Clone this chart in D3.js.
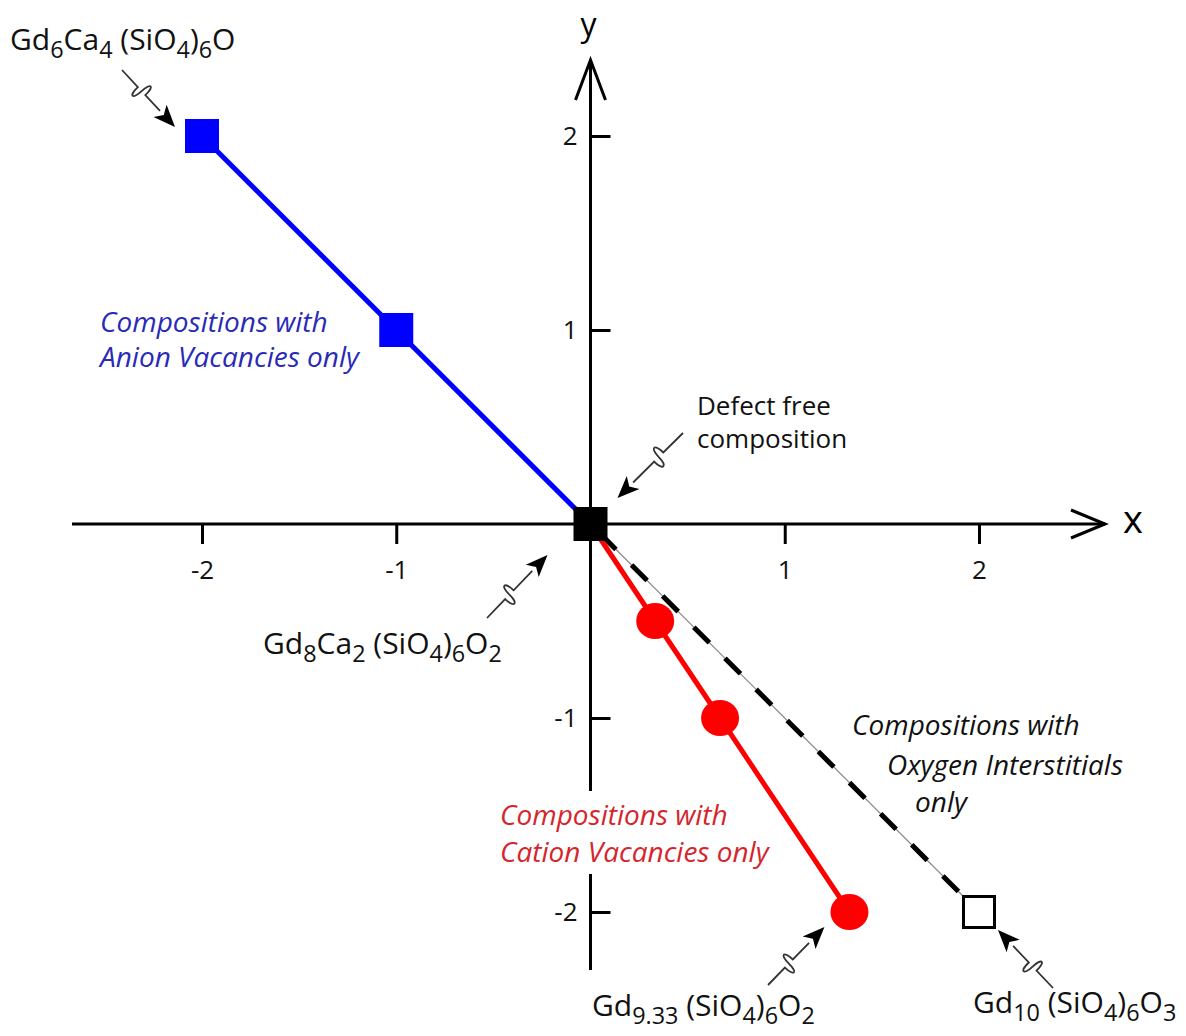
<!DOCTYPE html>
<html>
<head>
<meta charset="utf-8">
<script src="https://cdn.jsdelivr.net/npm/d3@7"></script>
<style>
  html, body { margin: 0; padding: 0; background: #fff; }
  svg { display: block; font-family: "Open Sans", "Noto Sans", sans-serif; }
  text { white-space: pre; }
</style>
</head>
<body>
<div id="chart"></div>
<script>
// data: composition points in (x, y) defect space
const anionX = [-2, -1, 0];
const anionY = [2, 1, 0];
const cationX = [0.333, 0.667, 1.333];
const cationY = [-0.5, -1, -2];
const interX = [0, 2];
const interY = [0, -2];
const originPt = [0, 0];
const xTicks = [-2, -1, 1, 2];
const yTicks = [-2, -1, 1, 2];

const W = 1186, H = 1036;
const svg = d3.select("#chart").append("svg")
  .attr("width", W).attr("height", H);

// scales
const x = d3.scaleLinear().domain([-2, 2]).range([202, 979]);
const y = d3.scaleLinear().domain([-2, 2]).range([912, 136]);

// main axis lines
const ax = svg.append("g").attr("stroke", "#000").attr("stroke-width", 3).attr("fill", "none");
ax.append("line").attr("x1", 72).attr("x2", 1105).attr("y1", y(0)).attr("y2", y(0));
ax.append("line").attr("x1", x(0)).attr("x2", x(0)).attr("y1", 970).attr("y2", 60);
// arrow heads (open chevrons)
ax.append("path").attr("d", `M${1105 - 34},${y(0) - 14} L1105,${y(0)} L${1105 - 34},${y(0) + 14}`);
ax.append("path").attr("d", `M${x(0) - 15},100 L${x(0)},60 L${x(0) + 15},100`);

svg.append("text").attr("x", 1133).attr("y", 533).attr("text-anchor", "middle")
  .style("font-size", "38px").text("x");
svg.append("text").attr("x", x(0) - 2).attr("y", 36).attr("text-anchor", "middle")
  .style("font-size", "32px").text("y");

// ticks
const fmt = d => String(d);
const xAxis = svg.append("g")
  .attr("transform", `translate(0,${y(0)})`)
  .call(d3.axisBottom(x).tickValues(xTicks).tickSize(20).tickPadding(17).tickFormat(fmt));
const yAxis = svg.append("g")
  .attr("transform", `translate(${x(0)},0)`)
  .call(d3.axisLeft(y).tickValues(yTicks).tickSizeInner(-20).tickSizeOuter(0).tickPadding(13).tickFormat(fmt));
[xAxis, yAxis].forEach(a => {
  a.select(".domain").remove();
  a.selectAll(".tick line").attr("stroke", "#000").attr("stroke-width", 3);
  a.selectAll(".tick text").attr("fill", "#111").style("font-size", "26px").style("font-family", "'Open Sans', sans-serif");
});

// white patches behind some labels (above axes, below data lines)
const bg = svg.append("g");

// oxygen interstitial line: thin grey + thick black dashes
const line = d3.line().x(d => x(d[0])).y(d => y(d[1]));
const interPts = interX.map((v, i) => [v, interY[i]]);
svg.append("path").attr("d", line(interPts)).attr("stroke", "#888").attr("stroke-width", 1.2).attr("fill", "none");
svg.append("path").attr("d", line(interPts)).attr("stroke", "#000").attr("stroke-width", 5)
  .attr("fill", "none").attr("stroke-dasharray", "22 22").attr("stroke-dashoffset", -14);

// cation vacancy line
const cationPts = [originPt].concat(cationX.map((v, i) => [v, cationY[i]]));
svg.append("path").attr("d", line(cationPts)).attr("stroke", "#f00").attr("stroke-width", 5).attr("fill", "none");

// anion vacancy line
const anionPts = anionX.map((v, i) => [v, anionY[i]]);
svg.append("path").attr("d", line(anionPts)).attr("stroke", "#00f").attr("stroke-width", 5).attr("fill", "none");

// markers
const S = 34;
svg.selectAll(".blue").data(anionPts.slice(0, 2)).enter().append("rect")
  .attr("x", d => x(d[0]) - S / 2).attr("y", d => y(d[1]) - S / 2)
  .attr("width", S).attr("height", S).attr("fill", "#00f");
svg.selectAll(".red").data(cationPts.slice(1)).enter().append("ellipse")
  .attr("cx", d => x(d[0])).attr("cy", d => y(d[1]))
  .attr("rx", 19).attr("ry", 18).attr("fill", "#f00");
svg.append("rect")
  .attr("x", x(interX[1]) - S / 2 + 1.5).attr("y", y(interY[1]) - S / 2 + 1.5)
  .attr("width", S - 3).attr("height", S - 3).attr("fill", "#fff").attr("stroke", "#000").attr("stroke-width", 3);
svg.append("rect")
  .attr("x", x(originPt[0]) - S / 2).attr("y", y(originPt[1]) - S / 2)
  .attr("width", S).attr("height", S).attr("fill", "#000");

// squiggly arrows
function squiggle(sx, sy, tx, ty) {
  const dx = tx - sx, dy = ty - sy, L = Math.hypot(dx, dy);
  const ux = dx / L, uy = dy / L, nx = -uy, ny = ux;
  const p = t => [sx + ux * L * t, sy + uy * L * t];
  const head = 22;
  const end = [tx - ux * head, ty - uy * head];
  const a = p(0.30), m = p(0.37), b = p(0.44);
  const off = (q, k) => [q[0] + nx * k, q[1] + ny * k];
  // S-shaped wave in the middle of the stem
  svg.append("path")
    .attr("d", `M${sx},${sy} L${a} C${off(a, 13)} ${off(m, 13)} ${m} C${off(m, -13)} ${off(b, -13)} ${b} L${end}`)
    .attr("stroke", "#333").attr("stroke-width", 1.8).attr("fill", "none");
  const notch = [tx - ux * head * 0.75, ty - uy * head * 0.75];
  svg.append("path")
    .attr("d", `M${tx},${ty} L${end[0] + nx * 9},${end[1] + ny * 9} L${notch} L${end[0] - nx * 9},${end[1] - ny * 9} Z`)
    .attr("fill", "#000");
}
squiggle(122, 70, x(-2) - 27, y(2) - 9);
squiggle(683, 433, x(0) + 27, y(0) - 26);
squiggle(487, 618, x(0) - 43, y(0) + 31);
squiggle(768, 985, x(cationX[2]) - 25, y(cationY[2]) + 15);
squiggle(1053, 988, x(interX[1]) + 19, y(interY[1]) + 18);

// chemical formula labels with subscripts
function formula(px, py, parts, size) {
  const t = svg.append("text").attr("x", px).attr("y", py)
    .style("font-size", size + "px").attr("fill", "#111");
  let down = false;
  parts.forEach(([s, sub]) => {
    const ts = t.append("tspan").text(s);
    if (sub) {
      ts.style("font-size", (size * 0.78) + "px");
      if (!down) { ts.attr("dy", size * 0.28); down = true; }
    } else if (down) {
      ts.attr("dy", -size * 0.28); down = false;
    }
  });
}
formula(10, 50, [["Gd"], ["6", 1], ["Ca"], ["4", 1], [" (SiO"], ["4", 1], [")"], ["6", 1], ["O"]], 30);
formula(263, 654, [["Gd"], ["8", 1], ["Ca"], ["2", 1], [" (SiO"], ["4", 1], [")"], ["6", 1], ["O"], ["2", 1]], 30);
formula(592, 1016, [["Gd"], ["9.33", 1], [" (SiO"], ["4", 1], [")"], ["6", 1], ["O"], ["2", 1]], 30);
formula(973, 1013, [["Gd"], ["10", 1], [" (SiO"], ["4", 1], [")"], ["6", 1], ["O"], ["3", 1]], 30);

// descriptive labels (optionally with a white patch hiding the axis behind)
function label(lines, color, size, italic, knockout) {
  const ts = lines.map(([s, px, py]) => svg.append("text").attr("x", px).attr("y", py).attr("fill", color)
    .style("font-size", size + "px").style("font-style", italic ? "italic" : "normal").text(s));
  if (knockout) {
    const boxes = ts.map(t => t.node().getBBox());
    const x0 = d3.min(boxes, b => b.x) - 4, x1 = d3.max(boxes, b => b.x + b.width) + 4;
    const y0 = d3.min(boxes, b => b.y) - 4, y1 = d3.max(boxes, b => b.y + b.height) + 4;
    bg.append("rect").attr("x", x0).attr("y", y0).attr("width", x1 - x0).attr("height", y1 - y0).attr("fill", "#fff");
  }
}
label([["Defect free", 697, 415], ["composition", 697, 448]], "#111", 26, false);
label([["Compositions with", 100, 332], ["Anion Vacancies only", 100, 367]], "#2a2ab8", 28, true);
label([["Compositions with", 500, 825], ["Cation Vacancies only", 500, 862]], "#d4262c", 28, true, true);
label([["Compositions with", 852, 735], ["Oxygen Interstitials", 887, 775], ["only", 915, 812]], "#111", 28, true);
</script>
</body>
</html>
